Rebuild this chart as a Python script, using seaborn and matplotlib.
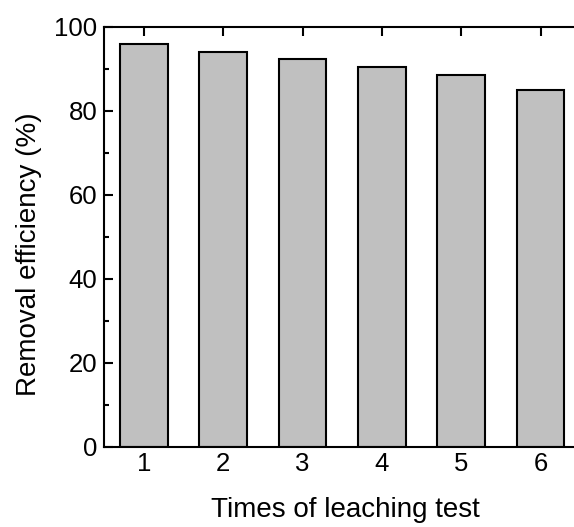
import matplotlib
matplotlib.use("Agg")
import matplotlib.pyplot as plt
import seaborn as sns
import pandas as pd
from matplotlib.ticker import MultipleLocator

times = ["1", "2", "3", "4", "5", "6"]
efficiency = [96.0, 94.0, 92.3, 90.5, 88.5, 85.0]

sns.set_theme(style="ticks")
plt.rcParams["font.family"] = ["Liberation Sans", "DejaVu Sans"]
plt.rcParams["text.color"] = "black"
plt.rcParams["axes.labelcolor"] = "black"
plt.rcParams["xtick.color"] = "black"
plt.rcParams["ytick.color"] = "black"
plt.rcParams["axes.edgecolor"] = "black"

df = pd.DataFrame({"Times": times, "Efficiency": efficiency})

fig = plt.figure(figsize=(5.74, 5.27), dpi=100)
ax = fig.add_axes([104.3/574, 80/527, 476/574, 420/527])
sns.barplot(data=df, x="Times", y="Efficiency", color="#c0c0c0", saturation=1,
            width=0.6, edgecolor="black", linewidth=1.5, ax=ax)

ax.set_xlim(-0.5, 5.5)
ax.set_ylim(0, 100)
ax.yaxis.set_major_locator(MultipleLocator(20))
ax.yaxis.set_minor_locator(MultipleLocator(10))
ax.tick_params(axis="both", which="major", direction="in", length=6.2, width=1.5,
               labelsize=18.5, top=True, right=False, labelcolor="black")
ax.tick_params(axis="x", which="major", pad=3.5)
ax.tick_params(axis="y", which="major", pad=5)
ax.tick_params(axis="y", which="minor", direction="in", length=3.8, width=1.5)
for s in ["left", "bottom", "top"]:
    ax.spines[s].set_visible(True)
    ax.spines[s].set_linewidth(1.5)
ax.spines["right"].set_visible(False)
ax.set_xlabel("Times of leaching test", fontsize=20, va="baseline")
ax.xaxis.set_label_coords((345 - 104.3) / 476, (447 - 517.3) / 420)
ax.set_ylabel("Removal efficiency (%)", fontsize=20, va="baseline")
ax.yaxis.set_label_coords((36 - 104.3) / 476, (447 - 254) / 420)

fig.savefig("out.png", dpi=100)
